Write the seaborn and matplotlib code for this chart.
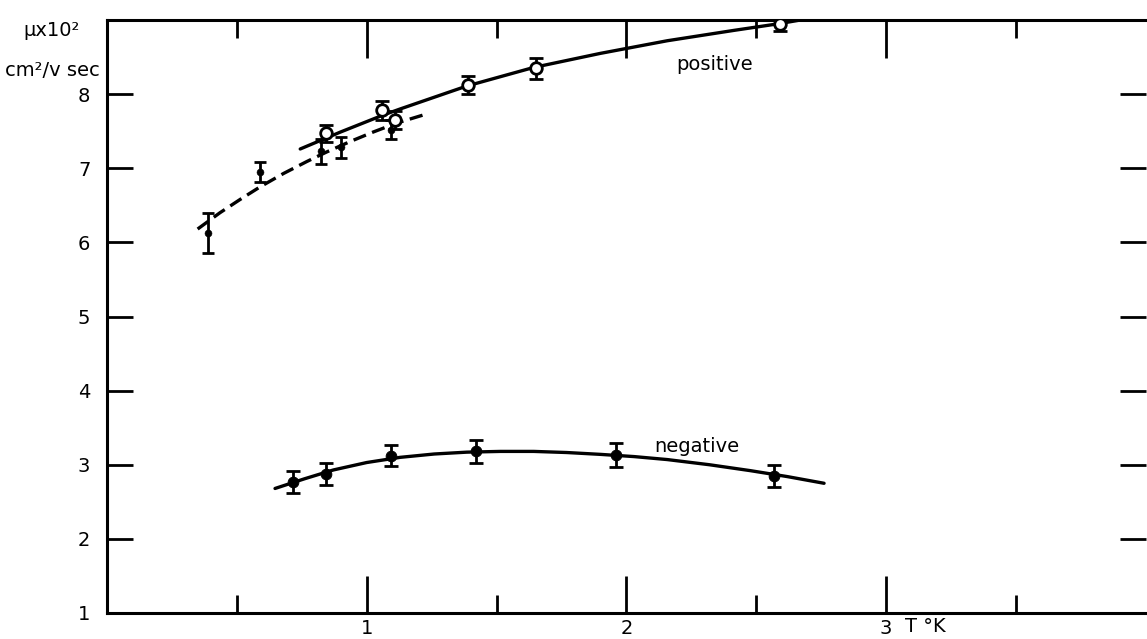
import matplotlib
matplotlib.use("Agg")
import matplotlib.pyplot as plt
import seaborn as sns
import pandas as pd

# positive ions, open circles (upper branch)
pos_open_T = [0.845, 1.06, 1.11, 1.39, 1.65, 2.59]
pos_open_mu = [7.47, 7.78, 7.65, 8.12, 8.35, 8.95]
pos_open_err = [0.12, 0.13, 0.12, 0.12, 0.14, 0.10]

# positive ions, filled dots (lower branch)
pos_fill_T = [0.39, 0.59, 0.825, 0.90, 1.095]
pos_fill_mu = [6.13, 6.95, 7.23, 7.28, 7.52]
pos_fill_err = [0.27, 0.13, 0.17, 0.14, 0.13]

# negative ions
neg_T = [0.716, 0.844, 1.093, 1.422, 1.958, 2.57]
neg_mu = [2.77, 2.88, 3.12, 3.18, 3.13, 2.85]
neg_err = [0.15, 0.15, 0.14, 0.15, 0.16, 0.15]

# hand drawn curves
pos_solid_T = [0.744, 0.90, 1.065, 1.129, 1.386, 1.643, 1.90, 2.157, 2.414, 2.587, 2.67]
pos_solid_mu = [7.26, 7.49, 7.72, 7.80, 8.11, 8.36, 8.55, 8.72, 8.86, 8.95, 9.00]

pos_dash_T = [0.349, 0.435, 0.513, 0.590, 0.680, 0.769, 0.846, 0.936, 1.026, 1.116, 1.238]
pos_dash_mu = [6.18, 6.40, 6.58, 6.75, 6.93, 7.09, 7.22, 7.36, 7.49, 7.61, 7.74]

neg_curve_T = [0.647, 0.760, 0.872, 1.000, 1.129, 1.260, 1.386, 1.515, 1.643, 1.770,
               1.90, 2.030, 2.157, 2.320, 2.478, 2.620, 2.761]
neg_curve_mu = [2.68, 2.81, 2.93, 3.03, 3.10, 3.145, 3.17, 3.18, 3.18, 3.165,
                3.14, 3.11, 3.07, 3.00, 2.92, 2.84, 2.75]

x_major = [1, 2, 3]
x_minor = [0.5, 1.5, 2.5, 3.5]
y_major = [1, 2, 3, 4, 5, 6, 7, 8]

sns.set_theme(style="ticks")
plt.rcParams["font.family"] = ["DejaVu Sans"]
plt.rcParams["text.color"] = "black"
plt.rcParams["xtick.color"] = "black"
plt.rcParams["ytick.color"] = "black"

fig = plt.figure(figsize=(11.47, 6.39), dpi=100)
ax = fig.add_axes([107 / 1147, 26 / 639, 1 - 107 / 1147 - 0.001, (613 - 20) / 639])

curves = pd.DataFrame({
    "T": pos_solid_T + pos_dash_T + neg_curve_T,
    "mu": pos_solid_mu + pos_dash_mu + neg_curve_mu,
    "curve": ["pos_solid"] * len(pos_solid_T) + ["pos_dash"] * len(pos_dash_T)
             + ["neg"] * len(neg_curve_T),
})
sns.lineplot(data=curves, x="T", y="mu", units="curve", estimator=None, sort=False,
             style="curve", dashes={"pos_solid": "", "pos_dash": (4, 2), "neg": ""},
             color="black", linewidth=2.4, legend=False, ax=ax)

ax.errorbar(pos_open_T, pos_open_mu, yerr=pos_open_err, fmt="none",
            ecolor="black", elinewidth=2, capsize=5, capthick=2)
sns.scatterplot(x=pos_open_T, y=pos_open_mu, marker="o", s=70,
                facecolor="white", edgecolor="black", linewidth=2, ax=ax, zorder=5)

ax.errorbar(pos_fill_T, pos_fill_mu, yerr=pos_fill_err, fmt="none",
            ecolor="black", elinewidth=2, capsize=4, capthick=2)
sns.scatterplot(x=pos_fill_T, y=pos_fill_mu, marker="o", s=25,
                color="black", edgecolor="black", ax=ax, zorder=5)

ax.errorbar(neg_T, neg_mu, yerr=neg_err, fmt="none",
            ecolor="black", elinewidth=2, capsize=5, capthick=2)
sns.scatterplot(x=neg_T, y=neg_mu, marker="o", s=60,
                color="black", edgecolor="black", ax=ax, zorder=5)

ax.text(2.34, 8.40, "positive", fontsize=14, ha="center", va="center", color="black")
ax.text(2.27, 3.24, "negative", fontsize=14, ha="center", va="center", color="black")

ax.set_xlim(0, 4)
ax.set_ylim(1, 9)
ax.set_xlabel("")
ax.set_ylabel("")

ax.set_xticks(x_major)
ax.set_xticks(x_minor, minor=True)
ax.set_yticks(y_major)
ax.tick_params(axis="x", which="major", direction="in", length=27, width=2,
               top=True, labelsize=14, pad=4, colors="black")
ax.tick_params(axis="x", which="minor", direction="in", length=13, width=2, top=True)
ax.tick_params(axis="y", which="major", direction="in", length=19, width=2,
               right=True, labelsize=14, pad=12, colors="black")
for s in ax.spines.values():
    s.set_linewidth(2.2)
    s.set_color("black")
ax.spines["right"].set_visible(False)

fig.text(52 / 1147, 1 - 30 / 639, "µx10²", fontsize=14, ha="center", va="center", color="black")
fig.text(52 / 1147, 1 - 70 / 639, "cm²/v sec", fontsize=14, ha="center", va="center", color="black")
fig.text(925 / 1147, 1 - 627 / 639, "T °K", fontsize=14, ha="center", va="center", color="black")

fig.savefig("out.png", dpi=100, facecolor="white")
